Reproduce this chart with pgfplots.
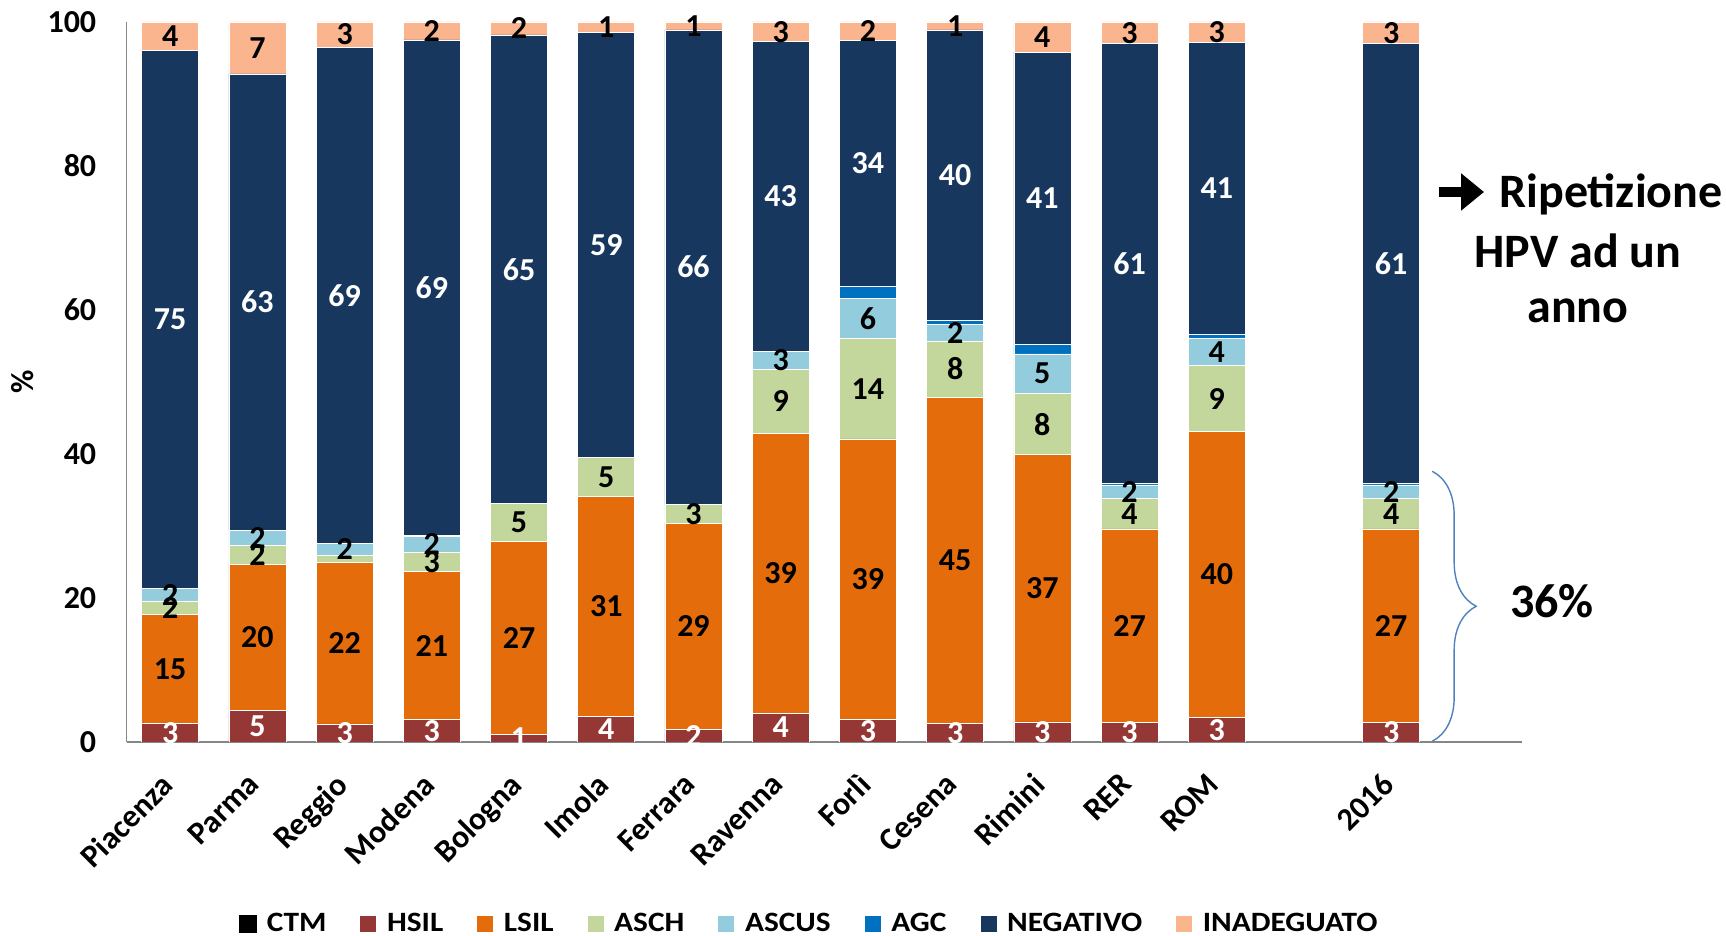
\documentclass[border=0pt]{standalone}
\usepackage{pgfplots}
\pgfplotsset{compat=1.18}
\usepackage{pgfplotstable}
\usepackage{graphicx}
\usepackage{fontspec}
\setmainfont{Carlito}
\usetikzlibrary{decorations.pathreplacing,arrows.meta}
\definecolor{cHSIL}{HTML}{953735}
\definecolor{cLSIL}{HTML}{E46C0A}
\definecolor{cASCH}{HTML}{C3D69B}
\definecolor{cASCUS}{HTML}{93CDDD}
\definecolor{cAGC}{HTML}{0070C0}
\definecolor{cNEG}{HTML}{17375E}
\definecolor{cINAD}{HTML}{FAB58F}
\definecolor{cAxis}{HTML}{868686}
\definecolor{cBrace}{HTML}{4F81BD}

\pgfplotstableread{
x  hsil lsil asch ascus agc neg  inad lh ll la lu ln li
0  2.6  15.1 1.9  1.7   0   74.7 4.0  3  15 2  2  75 4
1  4.4  20.3 2.6  2.1   0   63.4 7.2  5  20 2  2  63 7
2  2.5  22.4 1.0  1.7   0   68.9 3.5  3  22 {} 2 69 3
3  3.1  20.6 2.7  2.2   0.1 68.8 2.5  3  21 3  2  69 2
4  1.0  26.9 5.2  0     0   65.1 1.8  1  27 5  {} 65 2
5  3.6  30.5 5.4  0     0   59.0 1.5  4  31 5  {} 59 1
6  1.8  28.6 2.6  0     0   65.9 1.1  2  29 3  {} 66 1
7  4.0  38.9 8.8  2.6   0   43.0 2.7  4  39 9  3  43 3
8  3.1  39.0 13.9 5.6   1.7 34.1 2.6  3  39 14 6  34 2
9  2.6  45.3 7.8  2.3   0.6 40.3 1.1  3  45 8  2  40 1
10 2.8  37.1 8.5  5.5   1.3 40.6 4.2  3  37 8  5  41 4
11 2.7  26.9 4.2  1.9   0.2 61.1 3.0  3  27 4  2  61 3
12 3.4  39.7 9.2  3.7   0.6 40.6 2.8  3  40 9  4  41 3
14 2.7  26.9 4.2  1.9   0.2 61.1 3.0  3  27 4  2  61 3
}\datatable

\newcommand{\legtxt}[1]{\scalebox{1.12}[1]{#1}}

\pgfplotsset{
  seg/.style n args={2}{
    fill=#1, draw=white, line width=0.3pt,
    nodes near coords,
    point meta=explicit symbolic,
    every node near coord/.append style={text=#2, anchor=center},
    legend image code/.code={\fill[fill=#1] (0pt,-4.25pt) rectangle (8.5pt,4.25pt);},
  },
}

\begin{document}
\begin{tikzpicture}
\useasboundingbox (0,0) rectangle (863pt,468pt);
\begin{axis}[
  at={(63.3pt,97pt)}, anchor=south west,
  scale only axis, width=697.7pt, height=360pt,
  ybar stacked, bar width=28.5pt,
  xmin=-0.5, xmax=15.5, ymin=0, ymax=100,
  xtick={0,1,2,3,4,5,6,7,8,9,10,11,12,14},
  xticklabels={Piacenza,Parma,Reggio,Modena,Bologna,Imola,Ferrara,Ravenna,Forlì,Cesena,Rimini,RER,ROM,2016},
  ytick={0,20,40,60,80,100},
  axis x line*=bottom, axis y line*=left,
  axis line style={cAxis, line width=0.8pt, -},
  major tick length=0pt,
  /pgf/number format/assume math mode=true,
  yticklabel style={font=\bfseries\fontsize{16}{16}\selectfont, inner sep=0pt, xshift=-15pt},
  xticklabel style={font=\bfseries\fontsize{16}{16}\selectfont, inner sep=0pt, xshift=-5.5pt, yshift=-14.5pt, rotate=45, anchor=north east},
  ylabel={\%},
  every axis y label/.style={at={(axis description cs:-0.0745,0.5)}, rotate=90, anchor=center, font=\bfseries\fontsize{16}{16}\selectfont},
  nodes near coords style={font=\bfseries\fontsize{16}{16}\selectfont, inner sep=0pt},
  clip=true,
  legend style={at={(0.4885,-0.252)}, anchor=center, draw=none, fill=none,
    font=\bfseries\fontsize{14}{14}\selectfont,
    nodes={inner sep=0pt},
    /tikz/every even column/.append style={column sep=16.5pt},
    /tikz/every odd column/.append style={column sep=5pt}},
  legend columns=-1,
]
\addlegendimage{legend image code/.code={\fill[black] (0pt,-4.25pt) rectangle (8.5pt,4.25pt);}}
\addlegendentry{\legtxt{CTM}}
\addplot[seg={cHSIL}{white}] table[x=x,y=hsil,meta=lh]{\datatable};
\addlegendentry{\legtxt{HSIL}}
\addplot[seg={cLSIL}{black}] table[x=x,y=lsil,meta=ll]{\datatable};
\addlegendentry{\legtxt{LSIL}}
\addplot[seg={cASCH}{black}] table[x=x,y=asch,meta=la]{\datatable};
\addlegendentry{\legtxt{ASCH}}
\addplot[seg={cASCUS}{black}] table[x=x,y=ascus,meta=lu]{\datatable};
\addlegendentry{\legtxt{ASCUS}}
\addplot[seg={cAGC}{black}, nodes near coords={}] table[x=x,y=agc]{\datatable};
\addlegendentry{\legtxt{AGC}}
\addplot[seg={cNEG}{white}] table[x=x,y=neg,meta=ln]{\datatable};
\addlegendentry{\legtxt{NEGATIVO}}
\addplot[seg={cINAD}{black}] table[x=x,y=inad,meta=li]{\datatable};
\addlegendentry{\legtxt{INADEGUATO}}
\draw[cBrace, line width=0.7pt, decorate, decoration={brace, amplitude=22pt}]
  (axis cs:14.47,37.6) -- (axis cs:14.47,0.1);
\end{axis}
\draw[line width=5pt, -{Triangle[length=11.5pt, width=18pt]}] (719.5pt,372pt) -- (742pt,372pt);
\node[font=\bfseries\fontsize{24}{24}\selectfont, anchor=west, inner sep=0pt] at (749.5pt,371pt) {Ripetizione};
\node[font=\bfseries\fontsize{24}{24}\selectfont, inner sep=0pt] at (789pt,342.5pt) {HPV ad un};
\node[font=\bfseries\fontsize{24}{24}\selectfont, inner sep=0pt] at (789pt,312.5pt) {anno};
\node[font=\bfseries\fontsize{24}{24}\selectfont] at (776pt,167.5pt) {36\%};
\end{tikzpicture}
\end{document}
